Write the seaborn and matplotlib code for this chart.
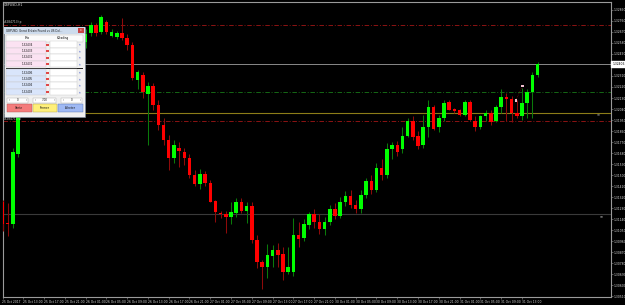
import numpy as np
import pandas as pd
import matplotlib
matplotlib.use("Agg")
import matplotlib.pyplot as plt
import matplotlib.transforms as mtrans
from matplotlib.patches import Rectangle
import seaborn as sns

# ---------------- data (GBPUSD H1) ----------------
open_ = [1.3128, 1.3111, 1.3110, 1.3167, 1.3202, 1.3211, 1.3208, 1.3221, 1.3218, 1.3229,
         1.3226, 1.3234, 1.3241, 1.3238, 1.3249, 1.3247, 1.3259, 1.3266, 1.3273, 1.3267,
         1.3275, 1.3264, 1.3263, 1.3266, 1.3262, 1.3256, 1.3228, 1.3232, 1.3216, 1.3223,
         1.3207, 1.3191, 1.3179, 1.3164, 1.3172, 1.3169, 1.3164, 1.3150, 1.3143, 1.3151,
         1.3144, 1.3129, 1.3119, 1.3118, 1.3116, 1.3119, 1.3128, 1.3121, 1.3125, 1.3097,
         1.3079, 1.3075, 1.3084, 1.3089, 1.3086, 1.3071, 1.3071, 1.3101, 1.3099, 1.3109,
         1.3118, 1.3112, 1.3106, 1.3112, 1.3122, 1.3117, 1.3128, 1.3133, 1.3126, 1.3122,
         1.3134, 1.3145, 1.3138, 1.3156, 1.3150, 1.3171, 1.3175, 1.3171, 1.3182, 1.3194,
         1.3182, 1.3175, 1.3189, 1.3206, 1.3189, 1.3197, 1.3210, 1.3204, 1.3203, 1.3199,
         1.3210, 1.3194, 1.3189, 1.3198, 1.3201, 1.3194, 1.3206, 1.3214, 1.3212, 1.3201,
         1.3198, 1.3209, 1.3218, 1.3232]
high = [1.3130, 1.3127, 1.3172, 1.3207, 1.3216, 1.3218, 1.3224, 1.3228, 1.3232, 1.3236,
        1.3238, 1.3244, 1.3248, 1.3252, 1.3256, 1.3262, 1.3269, 1.3275, 1.3274, 1.3281,
        1.3277, 1.3269, 1.3268, 1.3278, 1.3265, 1.3259, 1.3236, 1.3234, 1.3226, 1.3225,
        1.3211, 1.3197, 1.3183, 1.3179, 1.3177, 1.3172, 1.3167, 1.3154, 1.3155, 1.3153,
        1.3146, 1.3130, 1.3121, 1.3121, 1.3128, 1.3131, 1.3131, 1.3128, 1.3128, 1.3101,
        1.3081, 1.3094, 1.3093, 1.3095, 1.3091, 1.3091, 1.3115, 1.3112, 1.3114, 1.3120,
        1.3122, 1.3118, 1.3116, 1.3126, 1.3127, 1.3132, 1.3137, 1.3138, 1.3130, 1.3138,
        1.3148, 1.3150, 1.3160, 1.3163, 1.3176, 1.3177, 1.3178, 1.3189, 1.3197, 1.3198,
        1.3186, 1.3199, 1.3211, 1.3207, 1.3199, 1.3211, 1.3211, 1.3205, 1.3204, 1.3211,
        1.3211, 1.3198, 1.3199, 1.3203, 1.3203, 1.3207, 1.3220, 1.3217, 1.3215, 1.3211,
        1.3221, 1.3220, 1.3234, 1.3242]
low = [1.3104, 1.3100, 1.3107, 1.3165, 1.3201, 1.3205, 1.3207, 1.3216, 1.3215, 1.3225,
       1.3223, 1.3231, 1.3236, 1.3236, 1.3244, 1.3244, 1.3254, 1.3264, 1.3264, 1.3265,
       1.3265, 1.3263, 1.3261, 1.3260, 1.3252, 1.3228, 1.3220, 1.3213, 1.3175, 1.3203,
       1.3187, 1.3175, 1.3154, 1.3160, 1.3157, 1.3158, 1.3148, 1.3141, 1.3139, 1.3141,
       1.3128, 1.3112, 1.3115, 1.3103, 1.3110, 1.3116, 1.3119, 1.3111, 1.3095, 1.3074,
       1.3057, 1.3066, 1.3075, 1.3075, 1.3064, 1.3069, 1.3068, 1.3091, 1.3096, 1.3106,
       1.3107, 1.3102, 1.3101, 1.3109, 1.3114, 1.3115, 1.3125, 1.3123, 1.3119, 1.3119,
       1.3131, 1.3135, 1.3136, 1.3146, 1.3148, 1.3163, 1.3166, 1.3168, 1.3181, 1.3179,
       1.3171, 1.3172, 1.3181, 1.3187, 1.3185, 1.3194, 1.3203, 1.3201, 1.3198, 1.3198,
       1.3194, 1.3186, 1.3188, 1.3194, 1.3191, 1.3193, 1.3201, 1.3194, 1.3193, 1.3197,
       1.3195, 1.3197, 1.3197, 1.3230]
close = [1.3110, 1.3110, 1.3169, 1.3202, 1.3211, 1.3208, 1.3221, 1.3218, 1.3229, 1.3226,
         1.3234, 1.3241, 1.3238, 1.3249, 1.3247, 1.3259, 1.3265, 1.3273, 1.3266, 1.3279,
         1.3267, 1.3267, 1.3266, 1.3262, 1.3256, 1.3229, 1.3234, 1.3218, 1.3223, 1.3207,
         1.3191, 1.3179, 1.3164, 1.3175, 1.3170, 1.3164, 1.3150, 1.3143, 1.3151, 1.3144,
         1.3128, 1.3120, 1.3118, 1.3116, 1.3120, 1.3128, 1.3121, 1.3125, 1.3097, 1.3079,
         1.3075, 1.3085, 1.3089, 1.3085, 1.3071, 1.3075, 1.3101, 1.3098, 1.3110, 1.3118,
         1.3112, 1.3106, 1.3112, 1.3122, 1.3117, 1.3128, 1.3133, 1.3126, 1.3122, 1.3134,
         1.3145, 1.3138, 1.3156, 1.3150, 1.3171, 1.3175, 1.3169, 1.3182, 1.3194, 1.3181,
         1.3174, 1.3189, 1.3206, 1.3188, 1.3197, 1.3209, 1.3203, 1.3202, 1.3199, 1.3210,
         1.3195, 1.3189, 1.3198, 1.3201, 1.3193, 1.3206, 1.3214, 1.3212, 1.3201, 1.3198,
         1.3209, 1.3218, 1.3232, 1.32406]

time_labels = ["25 Oct 2017", "25 Oct 13:00", "25 Oct 17:00", "25 Oct 21:00", "26 Oct 01:00",
               "26 Oct 05:00", "26 Oct 09:00", "26 Oct 13:00", "26 Oct 17:00", "26 Oct 21:00",
               "27 Oct 01:00", "27 Oct 05:00", "27 Oct 09:00", "27 Oct 13:00", "27 Oct 17:00",
               "27 Oct 21:00", "30 Oct 01:00", "30 Oct 05:00", "30 Oct 09:00", "30 Oct 13:00",
               "30 Oct 17:00", "30 Oct 21:00", "31 Oct 01:00", "31 Oct 05:00", "31 Oct 09:00",
               "31 Oct 13:00"]
bars_per_label = 4

price_ticks = [1.32850, 1.32760, 1.32670, 1.32580, 1.32490, 1.32400, 1.32310, 1.32220,
               1.32130, 1.32040, 1.31950, 1.31860, 1.31770, 1.31680, 1.31590, 1.31500,
               1.31410, 1.31320, 1.31230, 1.31140, 1.31050, 1.30960, 1.30870, 1.30780,
               1.30690, 1.30600, 1.30510]

tp_level = 1.3273
sl_level = 1.3194
entry_level = 1.3201
pending_level = 1.3218
hline_level = 1.3118
order_label = "#284713"

trade_x = [98.8, 100.1]
trade_y = [1.3211, 1.3223]

ask_prices = ["1.32434", "1.32433", "1.32432", "1.32431"]
bid_prices = ["1.32406", "1.32405", "1.32404", "1.32403"]

# ---------------- figure ----------------
W, H = 625, 305
sns.set_style("dark", rc={"axes.facecolor": "black", "figure.facecolor": "black",
                          "axes.grid": False})
plt.rcParams["font.family"] = ["DejaVu Sans"]

fig = plt.figure(figsize=(W / 100, H / 100), dpi=100)
fig.patch.set_facecolor("black")
L, R, T, B = 2.5, 610.5, 2.0, 297.0
ax = fig.add_axes([L / W, 1 - B / H, (R - L) / W, (B - T) / H])
ax.set_facecolor("black")

df = pd.DataFrame({"o": open_, "h": high, "l": low, "c": close})
df["i"] = np.arange(len(df))
up = df["c"] > df["o"]
body_lo = np.minimum(df["o"], df["c"])
body_h = np.maximum((df["c"] - df["o"]).abs(), 0.00008)

ax.vlines(df["i"], df["l"], df["h"], colors=np.where(up, "#0a7a0a", "#8e0a0a"),
          linewidth=0.75, zorder=3)
ax.bar(df["i"], body_h, bottom=body_lo, width=0.68,
       color=np.where(up, "#00ff00", "#ff0000"), linewidth=0, zorder=4)

# horizontal levels
ax.axhline(tp_level, color="#961414", lw=0.65, ls=(0, (5, 2, 1, 2)), zorder=2)
ax.axhline(sl_level, color="#961414", lw=0.65, ls=(0, (5, 2, 1, 2)), zorder=2)
ax.axhline(pending_level, color="#176f17", lw=0.65, ls=(0, (5, 2, 1, 2)), zorder=2)
ax.axhline(entry_level, color="#8c7d18", lw=0.8, zorder=2)
ax.axhline(hline_level, color="#3a3a3a", lw=0.8, zorder=1)
ax.axhline(close[-1], color="#8a8a8a", lw=0.7, zorder=2)

# trade markers
sns.scatterplot(x=trade_x, y=trade_y, ax=ax, marker="s", s=3, color="#f0c0d0",
                edgecolor="none", zorder=6, legend=False)
ax.plot(trade_x, trade_y, color="#8e0a0a", lw=0.5, ls=":", zorder=5)

ax.set_xlim(0.1, 117.05)
ax.set_ylim(1.30505, 1.32914)

# axes / ticks
ax.set_xticks(df["i"].iloc[::bars_per_label][:len(time_labels)])
ax.set_xticklabels(time_labels, ha="left")
ax.yaxis.tick_right()
ax.set_yticks(price_ticks)
ax.set_yticklabels([f"{p:.5f}" for p in price_ticks])
ax.tick_params(axis="x", length=1.5, width=0.4, color="#9a9a9a", pad=0.6,
               labelsize=2.2, labelcolor="#d8d8d8", bottom=True)
ax.tick_params(axis="y", length=1.5, width=0.4, color="#9a9a9a", pad=0.6,
               labelsize=2.2, labelcolor="#d8d8d8", right=True, left=False)
for s in ax.spines.values():
    s.set_color("#9a9a9a")
    s.set_linewidth(0.8)
    s.set_visible(True)

# bid label on price axis
trans = mtrans.blended_transform_factory(ax.transAxes, ax.transData)
ax.text(1.003, close[-1], f"{close[-1]:.5f}", transform=trans, ha="left", va="center",
        fontsize=2.2, color="black", clip_on=False, zorder=10,
        bbox=dict(boxstyle="square,pad=0.35", fc="white", ec="white"))
ax.text(0.982, hline_level, "\u2261", transform=trans, ha="left", va="top",
        fontsize=2.6, color="#8a8a8a", zorder=6)
ax.text(0.978, entry_level, "\u2261", transform=trans, ha="left", va="top",
        fontsize=2.6, color="#7a7a7a", zorder=6)


# ---------------- text & one-click panel ----------------
def frect(x0, y0, x1, y1, fc, ec="none", lw=0.3, z=5):
    fig.add_artist(Rectangle((x0 / W, 1 - y1 / H), (x1 - x0) / W, (y1 - y0) / H,
                             transform=fig.transFigure, facecolor=fc, edgecolor=ec,
                             linewidth=lw, zorder=z))


def ftext(x, y, s, size=2.1, color="#111111", ha="left", z=7, **kw):
    fig.text(x / W, 1 - y / H, s, fontsize=size, color=color, ha=ha, va="center",
             zorder=z, **kw)


ftext(4, 5.5, "GBPUSD,H1", 2.3, "#e0e0e0", z=8)
ftext(4, 22.5, f"{order_label} tp", 2.1, "#d0d0d0", z=8)
ftext(4, 118.8, f"{order_label} sl", 2.1, "#d0d0d0", z=8)

frect(4, 27, 85, 116.5, "#f0f0f0", ec="#7f8fa0", lw=0.4)
frect(4, 27, 85, 34, "#cddbec")
ftext(6, 30.5, "GBPUSD, Great Britain Pound vs US Dol...", 2.0, "#1a1a1a")
frect(77.5, 28, 83.5, 33, "#c84444")
ftext(80.5, 30.4, "x", 2.0, "white", ha="center")
frect(6, 35, 83, 41.5, "#fbfbfb", ec="#b8b8b8")
ftext(27, 38.3, "Prix", 2.0, ha="center")
ftext(63, 38.3, "&Trading", 2.0, ha="center")

row_h = 6.4
for k, p in enumerate(ask_prices):
    y0 = 41.5 + row_h * k
    frect(6, y0, 45.5, y0 + row_h, "#fbe2f2", ec="#c8c8c8")
    ftext(27, y0 + row_h / 2, p, 2.0, ha="center")
    frect(46.3, y0 + 2.2, 49.0, y0 + 4.2, "#e04848")
    frect(50, y0, 76.5, y0 + row_h, "#ffffff", ec="#c8c8c8")
    ftext(79.8, y0 + row_h / 2, "\u25b2", 1.6, "#5a6ed0", ha="center")
frect(6, 67.6, 83, 69.4, "#1e1e1e")
for k, p in enumerate(bid_prices):
    y0 = 69.4 + row_h * k
    frect(6, y0, 45.5, y0 + row_h, "#d9e5fb", ec="#c8c8c8")
    ftext(27, y0 + row_h / 2, p, 2.0, ha="center")
    frect(46.3, y0 + 2.2, 49.0, y0 + 4.2, "#e04848")
    frect(50, y0, 76.5, y0 + row_h, "#ffffff", ec="#c8c8c8")
    ftext(79.8, y0 + row_h / 2, "\u25b2", 1.6, "#5a6ed0", ha="center")

for (x0, x1, s) in [(7, 28, "0"), (33, 56, "7.00"), (61, 82, "0")]:
    frect(x0, 97.5, x1, 103, "#ffffff", ec="#a8a8a8")
    ftext(x0 + 1.5, 100.2, "\u2039", 2.0)
    ftext((x0 + x1) / 2, 100.2, s, 2.0, ha="center")
    ftext(x1 - 2.5, 100.2, "\u203a", 2.0)

frect(7, 104.5, 32, 111.5, "#f47c7c", ec="#b05050")
ftext(19.5, 108, "Vente", 2.0, ha="center")
frect(33, 104.5, 57, 111.5, "#fff07a", ec="#b0a040")
ftext(45, 108, "Fermer", 2.0, ha="center")
frect(58, 104.5, 83, 111.5, "#9fb9f4", ec="#5070b0")
ftext(70.5, 108, "Acheter", 2.0, ha="center")

fig.savefig("out.png", dpi=100, facecolor="black")
